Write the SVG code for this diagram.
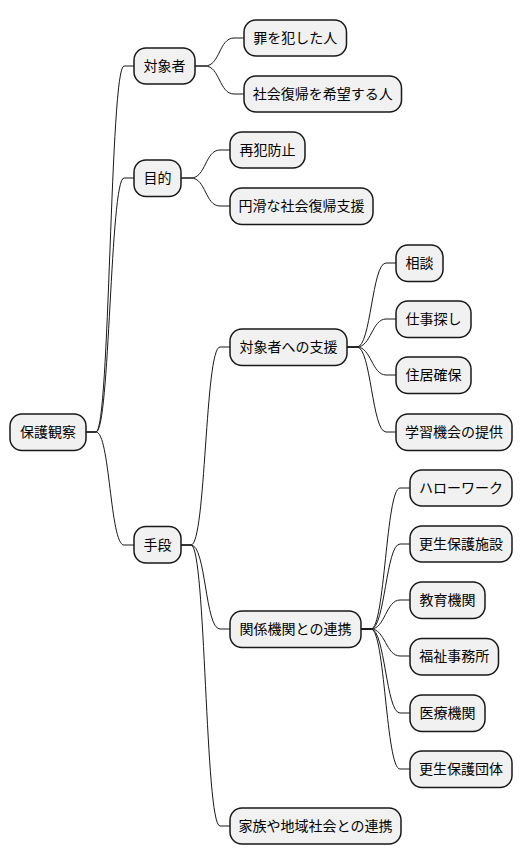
<svg xmlns="http://www.w3.org/2000/svg" width="530" height="865" viewBox="0 0 530 865">
<style>
.n rect{fill:#F1F1F1;stroke:#181818;stroke-width:1.5}
.n text{font-family:"Noto Sans CJK JP","Noto Sans",sans-serif;font-size:14px;fill:#000;text-anchor:middle}
.c path{fill:none;stroke:#181818;stroke-width:1}
</style>
<rect width="530" height="865" fill="#FFFFFF"/>
<g class="c">
<path d="M86,432 L96,432 C110,432 110,66 124,66 L134,66"/>
<path d="M86,432 L96,432 C110,432 110,178 124,178 L134,178"/>
<path d="M86,432 L96,432 C110,432 110,545 124,545 L134,545"/>
<path d="M195,66 L205,66 C220,66 219,38 234,38 L244,38"/>
<path d="M195,66 L205,66 C220,66 219,94 234,94 L244,94"/>
<path d="M181,178 L191,178 C206,178 205,150 220,150 L230,150"/>
<path d="M181,178 L191,178 C206,178 205,206 220,206 L230,206"/>
<path d="M181,545 L191,545 C206,545 205,347 220,347 L230,347"/>
<path d="M181,545 L191,545 C206,545 205,629 220,629 L230,629"/>
<path d="M181,545 L191,545 C206,545 205,826 220,826 L230,826"/>
<path d="M347,347 L357,347 C371,347 372,263 386,263 L396,263"/>
<path d="M347,347 L357,347 C371,347 372,319 386,319 L396,319"/>
<path d="M347,347 L357,347 C371,347 372,375 386,375 L396,375"/>
<path d="M347,347 L357,347 C371,347 372,432 386,432 L396,432"/>
<path d="M361,629 L371,629 C385,629 386,488 400,488 L410,488"/>
<path d="M361,629 L371,629 C385,629 386,544 400,544 L410,544"/>
<path d="M361,629 L371,629 C385,629 386,600 400,600 L410,600"/>
<path d="M361,629 L371,629 C385,629 386,656 400,656 L410,656"/>
<path d="M361,629 L371,629 C385,629 386,713 400,713 L410,713"/>
<path d="M361,629 L371,629 C385,629 386,769 400,769 L410,769"/>
</g>
<g id="root" class="n"><rect x="10" y="414" width="76" height="36.5" rx="12"/><text x="48" y="437">保護観察</text></g>
<g id="taishosha" class="n"><rect x="134" y="48" width="61" height="36" rx="12"/><text x="164.5" y="71">対象者</text></g>
<g id="tsumi" class="n"><rect x="244" y="20" width="102.5" height="36" rx="12"/><text x="295.3" y="43">罪を犯した人</text></g>
<g id="kibou" class="n"><rect x="244" y="76" width="157.5" height="36" rx="12"/><text x="322.8" y="99">社会復帰を希望する人</text></g>
<g id="mokuteki" class="n"><rect x="134" y="160" width="47" height="36.5" rx="12"/><text x="157.5" y="183">目的</text></g>
<g id="saihan" class="n"><rect x="230" y="132" width="75" height="36" rx="12"/><text x="267.5" y="155">再犯防止</text></g>
<g id="enkatsu" class="n"><rect x="230" y="188" width="143" height="36.5" rx="12"/><text x="301.5" y="211">円滑な社会復帰支援</text></g>
<g id="shudan" class="n"><rect x="134" y="526.5" width="47" height="36.5" rx="12"/><text x="157.5" y="550">手段</text></g>
<g id="shien" class="n"><rect x="230" y="329" width="117" height="36.5" rx="12"/><text x="288.5" y="352">対象者への支援</text></g>
<g id="soudan" class="n"><rect x="396" y="245" width="47" height="36.5" rx="12"/><text x="419.5" y="268">相談</text></g>
<g id="shigoto" class="n"><rect x="396" y="301" width="75" height="36.5" rx="12"/><text x="433.5" y="324">仕事探し</text></g>
<g id="jukyo" class="n"><rect x="396" y="357" width="75" height="36.5" rx="12"/><text x="433.5" y="380">住居確保</text></g>
<g id="gakushu" class="n"><rect x="396" y="414" width="116" height="36.5" rx="12"/><text x="454" y="437">学習機会の提供</text></g>
<g id="renkei" class="n"><rect x="230" y="611" width="131" height="36.5" rx="12"/><text x="295.5" y="634">関係機関との連携</text></g>
<g id="hellowork" class="n"><rect x="410" y="470" width="102" height="36" rx="12"/><text x="461" y="493">ハローワーク</text></g>
<g id="shisetsu" class="n"><rect x="410" y="526" width="102" height="36" rx="12"/><text x="461" y="549">更生保護施設</text></g>
<g id="kyoiku" class="n"><rect x="410" y="582" width="75" height="36.5" rx="12"/><text x="447.5" y="605">教育機関</text></g>
<g id="fukushi" class="n"><rect x="410" y="638.5" width="88.5" height="36.5" rx="12"/><text x="454.3" y="661">福祉事務所</text></g>
<g id="iryo" class="n"><rect x="410" y="695" width="75" height="36.5" rx="12"/><text x="447.5" y="718">医療機関</text></g>
<g id="dantai" class="n"><rect x="410" y="751" width="102" height="36.5" rx="12"/><text x="461" y="774">更生保護団体</text></g>
<g id="kazoku" class="n"><rect x="230" y="808" width="171" height="36" rx="12"/><text x="315.5" y="831">家族や地域社会との連携</text></g>
</svg>
